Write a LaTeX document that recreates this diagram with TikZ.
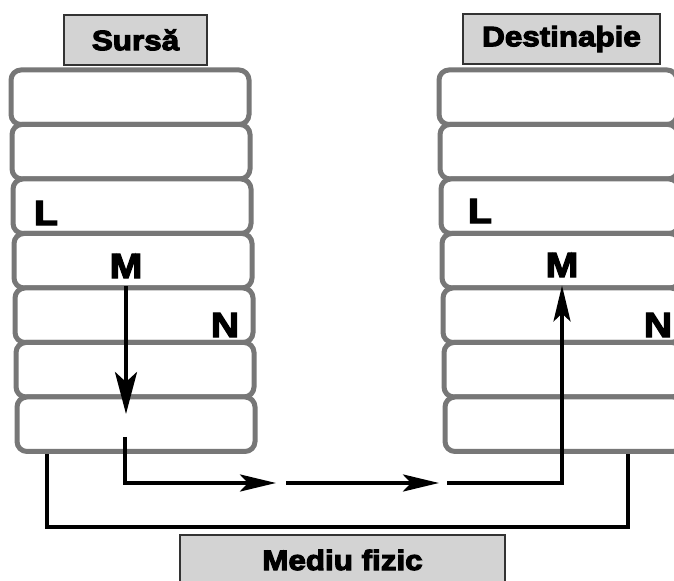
\documentclass[tikz,border=0pt]{standalone}
\usepackage{fontspec}
\setmainfont{Liberation Sans}[BoldFeatures={FakeBold=4,FakeStretch=1.12}]
\usetikzlibrary{arrows.meta}
\definecolor{layergray}{HTML}{777777}
\definecolor{tagfill}{HTML}{D3D3D3}

\begin{document}
\begin{tikzpicture}[x=0.5pt,y=-0.5pt,
  layer/.style={draw=layergray,line width=2.5pt,rounded corners=5pt,fill=white,minimum width=119pt,minimum height=27.25pt},
  tag/.style={draw=black!80,line width=0.7pt,fill=tagfill,minimum height=25pt,font=\bfseries\fontsize{14}{16}\selectfont},
  letter/.style={font=\bfseries\fontsize{17.5}{19}\selectfont,inner sep=4pt},
  link/.style={line width=2pt},
  tip/.style={-{Stealth[length=18pt,width=8.5pt,inset=4pt]}}]
\useasboundingbox (0,0) rectangle (674,581);
% the two stacks of layers
\foreach \i in {1,...,7}{
  \node[layer] (s\i) at ({129+\i},{42.75+54.5*\i}) {};
  \node[layer] (d\i) at ({557+\i},{42.75+54.5*\i}) {};
}
\node[letter] (sL) at (46,213) {L};
\node[letter] (sM) at (126,266) {M};
\node[letter] (sN) at (225,325) {N};
\node[letter] (dL) at (480,211) {L};
\node[letter] (dM) at (562,265) {M};
\node[letter] (dN) at (658,325) {N};
% titles
\node[tag,minimum width=71.5pt] (src) at (135.5,40) {Sursă};
\node[tag,minimum width=98.5pt] (dst) at (561.5,39) {Destinaþie};
\node[tag,minimum width=162.5pt] (medium) at (342.5,560) {Mediu fizic};
% data path
\coordinate (s7in) at (126,414);
\coordinate (s7out) at (125,437);
\coordinate (hopA) at (276,483);
\coordinate (hopB) at (286,483);
\coordinate (hopC) at (439,483);
\coordinate (hopD) at (447,483);
\draw[link,-{Stealth[length=21pt,width=11pt,inset=5pt]}] (sM.south) -- (s7in);
\draw[link,tip] (s7out) |- (hopA);
\draw[link,tip] (hopB) -- (hopC);
\draw[link,tip] (hopD) -| (dM.south);
% physical link
\coordinate (busL) at (47,527);
\coordinate (busR) at (628,527);
\draw[link] (s7.south -| busL) -- (busL) -- (busR) -- (d7.south -| busR);
\end{tikzpicture}
\end{document}
